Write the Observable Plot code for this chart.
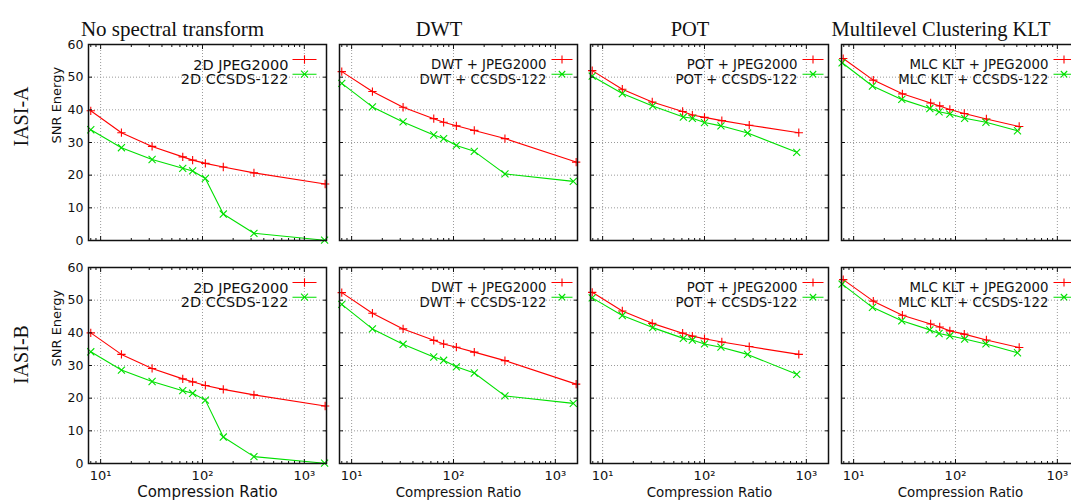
<!DOCTYPE html>
<html><head><meta charset="utf-8">
<script src="https://cdn.jsdelivr.net/npm/d3@7"></script>
<script src="https://cdn.jsdelivr.net/npm/@observablehq/plot@0.6"></script>
<style>
html,body{margin:0;padding:0;background:#fff;overflow:hidden;}
#chart{width:1071px;height:504px;overflow:hidden;}
#chart svg{max-width:none !important;width:1081px !important;height:504px !important;}
</style></head><body><div id="chart"></div>
<script>
// ---- categories / labels ----
const methods = ["No spectral transform", "DWT", "POT", "Multilevel Clustering KLT"];
const datasets = ["IASI-A", "IASI-B"];
const legendJ = ["2D JPEG2000", "DWT + JPEG2000", "POT + JPEG2000", "MLC KLT + JPEG2000"];
const legendC = ["2D CCSDS-122", "DWT + CCSDS-122", "POT + CCSDS-122", "MLC KLT + CCSDS-122"];
const yLabel = "SNR Energy";
const xLabel = "Compression Ratio";
const yTicks = [0, 10, 20, 30, 40, 50, 60];
const yGrid = [10, 20, 30, 40, 50];
const xMajor = [10, 100, 1000];
const xTickLabels = ["10¹", "10²", "10³"];
const xMinor = [8, 9, 20, 30, 40, 50, 60, 70, 80, 90, 200, 300, 400, 500, 600, 700, 800, 900];

// ---- compression ratios (x) ----
const crNoneJ = [8, 16, 32, 64, 80, 106.7, 160, 320, 1600];
const crNoneC = [8, 16, 32, 64, 80, 106.7, 160, 320, 1580];
const crDwtJ  = [8, 16, 32, 64, 80, 106.7, 160, 320, 1600];
const crDwtC  = [8, 16, 32, 64, 80, 106.7, 160, 320, 1500];
const crPotJ  = [7.9, 15.6, 30.7, 61, 76, 100, 148, 275, 843];
const crPotC  = [7.9, 15.6, 31, 62, 76, 100, 145, 265, 805];
const crMlcJ  = [7.9, 15.6, 30.1, 57, 70, 88, 122, 201, 422];
const crMlcC  = [7.7, 15.3, 29.7, 56, 69, 88, 123, 199, 406];

// ---- SNR Energy, IASI-A ----
const snrNoneJA = [39.7, 33.0, 28.8, 25.6, 24.6, 23.6, 22.5, 20.7, 17.3];
const snrNoneCA = [33.9, 28.4, 24.8, 22.1, 21.3, 19.0, 8.1, 2.2, 0.1];
const snrDwtJA  = [51.7, 45.6, 40.8, 37.3, 36.2, 35.1, 33.7, 31.2, 24.0];
const snrDwtCA  = [48.1, 40.9, 36.3, 32.3, 31.2, 29.1, 27.3, 20.4, 18.1];
const snrPotJA  = [52.0, 46.3, 42.4, 39.5, 38.4, 37.7, 36.7, 35.3, 33.0];
const snrPotCA  = [50.3, 45.0, 41.2, 37.8, 37.4, 36.1, 35.1, 32.9, 27.0];
const snrMlcJA  = [55.7, 49.1, 44.9, 42.1, 41.2, 40.1, 38.9, 37.2, 34.9];
const snrMlcCA  = [54.4, 47.3, 43.2, 40.4, 39.4, 38.7, 37.4, 36.2, 33.6];
// ---- SNR Energy, IASI-B ----
const snrNoneJB = [40.0, 33.4, 29.1, 25.9, 25.0, 23.9, 22.7, 21.0, 17.6];
const snrNoneCB = [34.2, 28.6, 25.1, 22.3, 21.5, 19.4, 8.1, 2.1, 0.1];
const snrDwtJB  = [52.3, 46.0, 41.2, 37.7, 36.6, 35.6, 34.1, 31.5, 24.3];
const snrDwtCB  = [48.7, 41.2, 36.5, 32.6, 31.6, 29.6, 27.7, 20.7, 18.4];
const snrPotJB  = [52.4, 46.7, 42.9, 39.9, 39.0, 38.2, 37.2, 35.8, 33.4];
const snrPotCB  = [50.7, 45.3, 41.6, 38.3, 37.8, 36.6, 35.6, 33.4, 27.3];
const snrMlcJB  = [56.3, 49.7, 45.4, 42.7, 41.8, 40.6, 39.6, 37.8, 35.5];
const snrMlcCB  = [54.9, 47.8, 43.7, 40.9, 39.8, 39.1, 38.1, 36.6, 33.9];

// ---- build table ----
const crs = [[crNoneJ, crNoneC], [crDwtJ, crDwtC], [crPotJ, crPotC], [crMlcJ, crMlcC]];
const snrs = [
  [[snrNoneJA, snrNoneCA], [snrDwtJA, snrDwtCA], [snrPotJA, snrPotCA], [snrMlcJA, snrMlcCA]],
  [[snrNoneJB, snrNoneCB], [snrDwtJB, snrDwtCB], [snrPotJB, snrPotCB], [snrMlcJB, snrMlcCB]]
];
const rows = [];
methods.forEach((m, i) => datasets.forEach((d, j) => [0, 1].forEach(s =>
  crs[i][s].forEach((x, k) => rows.push({method: m, dataset: d, series: s, cr: x, snr: snrs[j][i][s][k]})))));
const rowsJ = rows.filter(r => r.series === 0);
const rowsC = rows.filter(r => r.series === 1);

const legendRows = [];
methods.forEach((m, i) => datasets.forEach(d => legendRows.push({method: m, dataset: d, idx: i, j: legendJ[i], c: legendC[i]})));
const leg1 = legendRows.filter(r => r.idx === 0);
const leg2 = legendRows.filter(r => r.idx !== 0);
const titleRows = methods.map((m, i) => ({method: m, dataset: datasets[0], idx: i}));
const rowLabelRows = datasets.map((d, j) => ({method: methods[0], dataset: d, j}));
const bottomRows = methods.map((m, i) => ({method: m, dataset: datasets[1], idx: i}));

const RED = "#ff0000", GREEN = "#00e000", INK = "#111";
const SANS = "DejaVu Sans", SERIF = "Liberation Serif";

function legendSymbol(half, arm, kind) {
  return {draw(ctx) {
    ctx.moveTo(-half, 0); ctx.lineTo(half, 0);
    if (kind === "plus") { ctx.moveTo(0, -arm); ctx.lineTo(0, arm); ctx.moveTo(-arm, 0); ctx.lineTo(arm, 0); }
    else { ctx.moveTo(-arm, -arm); ctx.lineTo(arm, arm); ctx.moveTo(-arm, arm); ctx.lineTo(arm, -arm); }
  }};
}

const fxy = {fx: "method", fy: "dataset"};

const chart = Plot.plot({
  width: 1081,
  height: 504,
  marginLeft: 86,
  marginRight: 0,
  marginTop: 44,
  marginBottom: 40,
  style: {fontFamily: SANS, fontSize: "12px", color: INK, background: "#fff", maxWidth: "none"},
  fx: {domain: methods, paddingInner: 0.0508, paddingOuter: 0, axis: null},
  fy: {domain: datasets, paddingInner: 0.1193, paddingOuter: 0, axis: null},
  x: {type: "log", domain: [7.6, 1650], axis: null},
  y: {domain: [0, 60], axis: null},
  marks: [
    Plot.gridY(yGrid, {stroke: "#9a9a9a", strokeOpacity: 1, strokeDasharray: "1,2"}),
    Plot.gridX(xMajor, {stroke: "#9a9a9a", strokeOpacity: 1, strokeDasharray: "1,2"}),
    Plot.line(rowsJ, {x: "cr", y: "snr", ...fxy, z: "dataset", stroke: RED, strokeWidth: 1.1}),
    Plot.line(rowsC, {x: "cr", y: "snr", ...fxy, z: "dataset", stroke: GREEN, strokeWidth: 1.1}),
    Plot.dot(rowsJ, {x: "cr", y: "snr", ...fxy, symbol: "plus", r: 2.8, stroke: RED, strokeWidth: 1.1}),
    Plot.dot(rowsC, {x: "cr", y: "snr", ...fxy, symbol: "times", r: 3.3, stroke: GREEN, strokeWidth: 1.1}),
    Plot.frame({stroke: INK, strokeWidth: 1.5}),
    // inward ticks
    Plot.axisY(yTicks, {anchor: "left", tickSize: -4, text: null, label: null, facetAnchor: null, stroke: INK}),
    Plot.axisY(yTicks, {anchor: "right", tickSize: -4, text: null, label: null, facetAnchor: null, stroke: INK}),
    Plot.axisX(xMajor, {anchor: "bottom", tickSize: -4, text: null, label: null, facetAnchor: null, stroke: INK}),
    Plot.axisX(xMajor, {anchor: "top", tickSize: -4, text: null, label: null, facetAnchor: null, stroke: INK}),
    Plot.axisX(xMinor, {anchor: "bottom", tickSize: -2, text: null, label: null, facetAnchor: null, stroke: INK}),
    Plot.axisX(xMinor, {anchor: "top", tickSize: -2, text: null, label: null, facetAnchor: null, stroke: INK}),
    // tick labels
    Plot.axisY(yTicks, {anchor: "left", tickSize: 0, tickPadding: 5, label: null, fontSize: 12.5, fontFamily: SANS, fill: INK}),
    Plot.axisX(xMajor, {anchor: "bottom", tickSize: 0, tickPadding: 7, label: null, fontSize: 13, fontFamily: SANS, fill: INK,
      tickFormat: d => xTickLabels[xMajor.indexOf(d)]}),
    // axis titles
    Plot.text(rowLabelRows, {...fxy, text: () => yLabel, frameAnchor: "left", rotate: -90, dx: -32, dy: 1, fontSize: 13, fontFamily: SANS, fill: INK}),
    Plot.text(bottomRows.filter(r => r.idx === 0), {...fxy, text: () => xLabel, frameAnchor: "bottom", dy: 33, fontSize: 15, fontFamily: SANS, fill: INK}),
    Plot.text(bottomRows.filter(r => r.idx !== 0), {...fxy, text: () => xLabel, frameAnchor: "bottom", dy: 33, fontSize: 13.4, fontFamily: SANS, fill: INK}),
    // column titles
    Plot.text(titleRows.filter(r => r.idx === 0), {...fxy, text: "method", frameAnchor: "top", dy: -23, dx: -35, fontFamily: SERIF, fontSize: 21, fill: INK}),
    Plot.text(titleRows.filter(r => r.idx !== 0), {...fxy, text: "method", frameAnchor: "top", dy: -23, dx: -19.5, fontFamily: SERIF, fontSize: 20.5, fill: INK}),
    // row labels
    Plot.text(rowLabelRows.filter(r => r.j === 0), {...fxy, text: "dataset", frameAnchor: "left", rotate: -90, dx: -67, dy: 4, fontFamily: SERIF, fontSize: 20, fill: INK}),
    Plot.text(rowLabelRows.filter(r => r.j === 1), {...fxy, text: "dataset", frameAnchor: "left", rotate: -90, dx: -67, dy: 18.5, fontFamily: SERIF, fontSize: 20, fill: INK}),
    // legends - panel 1 (larger)
    Plot.text(leg1, {...fxy, text: "j", frameAnchor: "top-right", textAnchor: "end", dx: -38, dy: 15, fontSize: 14.5, fontFamily: SANS, fill: INK}),
    Plot.text(leg1, {...fxy, text: "c", frameAnchor: "top-right", textAnchor: "end", dx: -38, dy: 29.7, fontSize: 14.5, fontFamily: SANS, fill: INK}),
    Plot.dot(leg1, {...fxy, frameAnchor: "top-right", dx: -22, dy: 15, symbol: legendSymbol(12, 4.3, "plus"), fill: "none", stroke: RED, strokeWidth: 1.1}),
    Plot.dot(leg1, {...fxy, frameAnchor: "top-right", dx: -22, dy: 29.7, symbol: legendSymbol(12, 3.5, "times"), fill: "none", stroke: GREEN, strokeWidth: 1.1}),
    // legends - panels 2-4
    Plot.text(leg2, {...fxy, text: "j", frameAnchor: "top-right", textAnchor: "end", dx: -31, dy: 15, fontSize: 13.3, fontFamily: SANS, fill: INK}),
    Plot.text(leg2, {...fxy, text: "c", frameAnchor: "top-right", textAnchor: "end", dx: -31, dy: 29.7, fontSize: 13.3, fontFamily: SANS, fill: INK}),
    Plot.dot(leg2, {...fxy, frameAnchor: "top-right", dx: -15.5, dy: 15, symbol: legendSymbol(10.5, 3.9, "plus"), fill: "none", stroke: RED, strokeWidth: 1.1}),
    Plot.dot(leg2, {...fxy, frameAnchor: "top-right", dx: -15.5, dy: 29.7, symbol: legendSymbol(10.5, 3.2, "times"), fill: "none", stroke: GREEN, strokeWidth: 1.1})
  ]
});
document.getElementById("chart").append(chart);
</script></body></html>
